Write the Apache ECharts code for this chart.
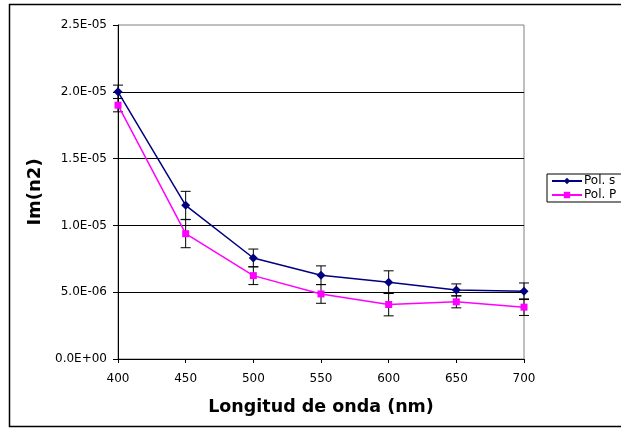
<!DOCTYPE html>
<html>
<head>
<meta charset="utf-8">
<script src="https://cdn.jsdelivr.net/npm/echarts@6/dist/echarts.min.js"></script>
<style>
  html, body { margin: 0; padding: 0; background: #fff; }
  #chart { width: 621px; height: 429px; }
</style>
</head>
<body>
<div id="chart"></div>
<script>
// wavelengths (nm)
const wavelengths = [400, 450, 500, 550, 600, 650, 700];
// Im(n2) values
const polS = [2.0e-5, 1.15e-5, 7.56e-6, 6.27e-6, 5.75e-6, 5.17e-6, 5.07e-6];
const polP = [1.9e-5, 9.38e-6, 6.24e-6, 4.87e-6, 4.08e-6, 4.28e-6, 3.88e-6];
// error bar half-widths, same for both series
const errors = [5.0e-7, 1.05e-6, 6.7e-7, 7.0e-7, 8.5e-7, 4.5e-7, 6.2e-7];

function sciLabel(v) {
    let parts = v.toExponential(1).split('e');
    let exp = parseInt(parts[1], 10);
    let sign = exp < 0 ? '-' : '+';
    let digits = String(Math.abs(exp)).padStart(2, '0');
    return parts[0] + 'E' + sign + digits;
}

function errData(vals) {
    return wavelengths.map((w, i) => [w, vals[i] - errors[i], vals[i] + errors[i]]);
}

function renderErr(params, api) {
    let x = api.value(0);
    let lo = api.coord([x, api.value(1)]);
    let hi = api.coord([x, api.value(2)]);
    let cap = 5;
    let style = { stroke: '#000', lineWidth: 1 };
    return {
        type: 'group',
        children: [
            { type: 'line', shape: { x1: hi[0], y1: hi[1], x2: lo[0], y2: lo[1] }, style: style },
            { type: 'line', shape: { x1: hi[0] - cap, y1: hi[1], x2: hi[0] + cap, y2: hi[1] }, style: style },
            { type: 'line', shape: { x1: lo[0] - cap, y1: lo[1], x2: lo[0] + cap, y2: lo[1] }, style: style }
        ]
    };
}

let chart = echarts.init(document.getElementById('chart'));
let option = {
    animation: false,
    textStyle: { fontFamily: 'DejaVu Sans' },
    graphic: [{
        type: 'rect',
        shape: { x: 9.5, y: 4.5, width: 700, height: 422 },
        style: { fill: 'none', stroke: '#000', lineWidth: 1.5 },
        silent: true
    }],
    grid: {
        left: 118, right: 97, top: 25, bottom: 70,
        show: true, borderColor: '#808080', borderWidth: 1, backgroundColor: 'transparent'
    },
    legend: {
        orient: 'vertical',
        left: 547, top: 174,
        itemWidth: 30, itemHeight: 8, itemGap: 2,
        padding: [1, 40, 1, 4],
        borderColor: '#000', borderWidth: 1,
        textStyle: { fontSize: 12, color: '#000', fontFamily: 'DejaVu Sans', padding: [0, 0, 0, -3] },
        data: ['Pol. s', 'Pol. P']
    },
    xAxis: {
        type: 'value',
        min: 400, max: 700, interval: 50,
        axisLine: { lineStyle: { color: '#000', width: 1 } },
        axisTick: { show: true, length: 4, lineStyle: { color: '#000' } },
        axisLabel: { color: '#000', fontSize: 12, margin: 14 },
        splitLine: { show: false },
        name: 'Longitud de onda (nm)',
        nameLocation: 'middle',
        nameGap: 39,
        nameTextStyle: { fontSize: 17.5, fontWeight: 'bold', color: '#000', fontFamily: 'DejaVu Sans' }
    },
    yAxis: {
        type: 'value',
        min: 0, max: 2.5e-5, interval: 5e-6,
        axisLine: { show: true, lineStyle: { color: '#000', width: 1 } },
        axisTick: { show: true, length: 5, lineStyle: { color: '#000' } },
        axisLabel: { color: '#000', fontSize: 12, margin: 11, formatter: sciLabel },
        splitLine: { show: true, showMinLine: false, showMaxLine: false, lineStyle: { color: '#000', width: 1 } },
        name: 'Im(n2)',
        nameLocation: 'middle',
        nameGap: 70,
        nameTextStyle: { fontSize: 18, fontWeight: 'bold', color: '#000', fontFamily: 'DejaVu Sans' }
    },
    series: [
        {
            type: 'custom',
            renderItem: renderErr,
            data: errData(polS),
            z: 1,
            silent: true
        },
        {
            type: 'custom',
            renderItem: renderErr,
            data: errData(polP),
            z: 1,
            silent: true
        },
        {
            name: 'Pol. s',
            type: 'line',
            data: wavelengths.map((w, i) => [w, polS[i]]),
            symbol: 'diamond',
            symbolSize: 9,
            lineStyle: { color: '#000080', width: 1.5 },
            itemStyle: { color: '#000080' },
            z: 3
        },
        {
            name: 'Pol. P',
            type: 'line',
            data: wavelengths.map((w, i) => [w, polP[i]]),
            symbol: 'rect',
            symbolSize: 7,
            lineStyle: { color: '#FF00FF', width: 1.5 },
            itemStyle: { color: '#FF00FF' },
            z: 2
        }
    ]
};
option && chart.setOption(option);
</script>
</body>
</html>
